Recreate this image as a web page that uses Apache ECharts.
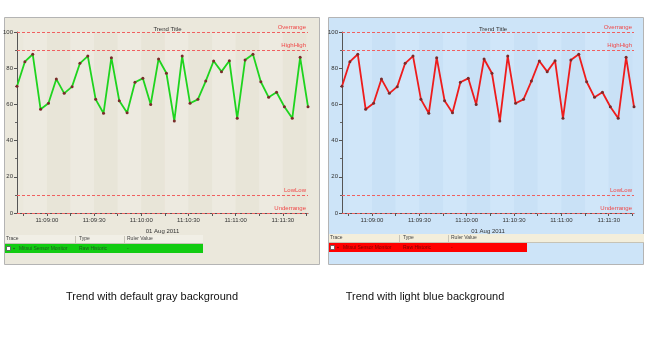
<!DOCTYPE html>
<html>
<head>
<meta charset="utf-8">
<script src="https://cdn.jsdelivr.net/npm/echarts@6/dist/echarts.min.js"></script>
<style>
  html, body { margin: 0; padding: 0; background: #fff; }
  #chart { width: 648px; height: 350px; }
</style>
</head>
<body>
<div id="chart"></div>
<script>
// Sample times (01 Aug 2011) and sensor readings, identical trace in both panels
const sampleTimes = [
  '11:08:41','11:08:46','11:08:51','11:08:56','11:09:01','11:09:06','11:09:11','11:09:16',
  '11:09:21','11:09:26','11:09:31','11:09:36','11:09:41','11:09:46','11:09:51','11:09:56',
  '11:10:01','11:10:06','11:10:11','11:10:16','11:10:21','11:10:26','11:10:31','11:10:36',
  '11:10:41','11:10:46','11:10:51','11:10:56','11:11:01','11:11:06','11:11:11','11:11:16',
  '11:11:21','11:11:26','11:11:31','11:11:36','11:11:41','11:11:46'
];
const sensorValues = [
  70, 83.6, 87.7, 57.3, 60.6, 74, 66.1, 69.8,
  82.7, 86.7, 62.8, 55.1, 85.8, 62, 55.4, 72.2,
  74.4, 60, 85.1, 77.2, 50.8, 86.7, 60.6, 62.8,
  72.9, 84, 78.1, 84.1, 52.3, 84.5, 87.7, 72.5,
  63.9, 66.7, 58.7, 52.3, 86, 58.7
];
// Labelled time ticks and the unlabelled ticks between them
const xTickLabels = ['11:09:00', '11:09:30', '11:10:00', '11:10:30', '11:11:00', '11:11:30'];
const xTickMarks = [
  '11:08:45', '11:09:00', '11:09:15', '11:09:30', '11:09:45', '11:10:00', '11:10:15',
  '11:10:30', '11:10:45', '11:11:00', '11:11:15', '11:11:30', '11:11:45'
];
// Alarm limits drawn as dashed rulers
const limitNames = ['Overrange', 'HighHigh', 'LowLow', 'Underrange'];
const limitValues = [100, 90, 10, 0];
const yTicks = { min: 0, max: 100, step: 20 };
const dateLabel = '01 Aug 2011';
const traceRow = ['Mitsui Sensor Monitor', 'Raw Historic', '-'];
const headerCols = ['Trace', 'Type', 'Ruler Value'];
const captions = ['Trend with default gray background', 'Trend with light blue background'];

function toTime(s) {
  const p = s.split(':').map(Number);
  return new Date(2011, 7, 1, p[0], p[1], p[2]).getTime();
}
function pad(n) { return (n < 10 ? '0' : '') + n; }
function fmtTime(v) {
  const d = new Date(v);
  return pad(d.getHours()) + ':' + pad(d.getMinutes()) + ':' + pad(d.getSeconds());
}
const seriesData = sampleTimes.map((t, i) => [toTime(t), sensorValues[i]]);
const tMin = toTime(sampleTimes[0]);
const tMax = toTime(sampleTimes[sampleTimes.length - 1]);

const FONT = 'Liberation Sans';
const panels = [
  { x: 4, gridLeft: 17, gridRight: 340, line: '#1ed41e', bg: '#ebe8dc',
    bands: ['#edeae0', '#e8e5d8'], header: '#f1efe6', headerW: 198,
    row: '#11cc11', rowY: 244, rowText: '#1f5a1f', caption: 152 },
  { x: 328, gridLeft: 342, gridRight: 14, line: '#ee1c1c', bg: '#cde4f8',
    bands: ['#d0e6f9', '#c9e1f6'], header: '#f3eedb', headerW: 315,
    row: '#ff0000', rowY: 243, rowText: '#7a0000', caption: 425 }
];

const grids = [], xAxes = [], yAxes = [], series = [], titles = [], graphics = [];

panels.forEach((p, i) => {
  grids.push({ left: p.gridLeft, right: p.gridRight, top: 32, bottom: 137, containLabel: false });
  titles.push({
    text: 'Trend Title', left: p.gridLeft + (648 - p.gridLeft - p.gridRight) / 2, top: 21,
    textAlign: 'center',
    textStyle: { fontSize: 6, fontWeight: 'normal', color: '#333', fontFamily: FONT }
  });
  xAxes.push({
    type: 'value', gridIndex: i, min: tMin, max: tMax,
    axisLine: { show: true, onZero: false, lineStyle: { color: '#555', width: 1 } },
    axisTick: { show: true, length: 3, lineStyle: { color: '#555' },
                customValues: xTickMarks.map(toTime) },
    axisLabel: {
      formatter: fmtTime, fontSize: 6, color: '#333', margin: 4, fontFamily: FONT,
      customValues: xTickLabels.map(toTime)
    },
    splitLine: { show: false },
    splitArea: { show: true, areaStyle: { color: p.bands } },
    name: dateLabel, nameLocation: 'middle', nameGap: 15,
    nameTextStyle: { fontSize: 6, color: '#333', fontFamily: FONT }
  });
  yAxes.push({
    type: 'value', gridIndex: i, min: yTicks.min, max: yTicks.max, interval: yTicks.step,
    axisLine: { show: true, lineStyle: { color: '#555', width: 1 } },
    axisTick: { show: true, length: 3, lineStyle: { color: '#555' } },
    minorTick: { show: true, splitNumber: 2, length: 2, lineStyle: { color: '#666' } },
    axisLabel: { fontSize: 6, color: '#333', margin: 4, fontFamily: FONT },
    splitLine: { show: false }
  });
  series.push({
    type: 'line', xAxisIndex: i, yAxisIndex: i, data: seriesData,
    symbol: 'circle', symbolSize: 3, showSymbol: true,
    itemStyle: { color: '#7a2a2a' },
    lineStyle: { color: p.line, width: 1.8 },
    emphasis: { disabled: true }, animation: false, z: 5,
    markLine: {
      silent: true, symbol: 'none', animation: false,
      lineStyle: { color: '#f06060', type: [3, 2], width: 1 },
      label: {
        position: 'insideEndTop', formatter: '{b}', fontSize: 6,
        color: '#f04848', fontFamily: FONT, distance: 2
      },
      data: limitNames.map((n, k) => ({ name: n, yAxis: limitValues[k] }))
    }
  });

  // panel background with a thin frame
  graphics.push({
    type: 'rect', z: -10, silent: true,
    shape: { x: p.x + 0.5, y: 17.5, width: 315, height: 247 },
    style: { fill: p.bg, stroke: '#b4b4b4', lineWidth: 1 }
  });
  // trace table header
  const hy = p.rowY - 9;
  graphics.push({
    type: 'rect', z: -9, silent: true,
    shape: { x: p.x + 1, y: hy, width: p.headerW, height: 8 },
    style: { fill: p.header }
  });
  graphics.push({
    type: 'line', z: -8, silent: true,
    shape: { x1: p.x + 1, y1: hy + 8.5, x2: p.x + 1 + p.headerW, y2: hy + 8.5 },
    style: { stroke: '#c6c3b6', lineWidth: 1 }
  });
  const colX = [p.x + 2, p.x + 75, p.x + 123];
  [p.x + 71, p.x + 120].forEach(sx => graphics.push({
    type: 'line', z: -8, silent: true,
    shape: { x1: sx + 0.5, y1: hy + 1, x2: sx + 0.5, y2: hy + 8 },
    style: { stroke: '#c8c5b8', lineWidth: 1 }
  }));
  headerCols.forEach((h, k) => graphics.push({
    type: 'text', z: 1, silent: true,
    style: { x: colX[k], y: hy + 4, text: h, fontSize: 5, fontFamily: FONT,
             fill: '#444', verticalAlign: 'middle' }
  }));
  // trace row
  graphics.push({
    type: 'rect', z: -9, silent: true,
    shape: { x: p.x + 1, y: p.rowY, width: 198, height: 9 },
    style: { fill: p.row }
  });
  graphics.push({
    type: 'rect', z: 1, silent: true,
    shape: { x: p.x + 2.5, y: p.rowY + 2.5, width: 4, height: 4 },
    style: { fill: '#fff', stroke: '#555', lineWidth: 0.8 }
  });
  graphics.push({
    type: 'circle', z: 1, silent: true,
    shape: { cx: p.x + 10, cy: p.rowY + 4.5, r: 0.8 },
    style: { fill: p.rowText }
  });
  const rowX = [p.x + 15, p.x + 75, p.x + 123];
  traceRow.forEach((t, k) => graphics.push({
    type: 'text', z: 1, silent: true,
    style: { x: rowX[k], y: p.rowY + 4.5, text: t, fontSize: 5, fontFamily: FONT,
             fill: p.rowText, verticalAlign: 'middle' }
  }));
  // caption under the panel
  graphics.push({
    type: 'text', silent: true,
    style: { x: p.caption, y: 297, text: captions[i], fontSize: 11, fontFamily: FONT,
             fill: '#111', align: 'center', verticalAlign: 'middle' }
  });
});

const chart = echarts.init(document.getElementById('chart'), null, { renderer: 'canvas' });
chart.setOption({
  backgroundColor: '#ffffff',
  animation: false,
  title: titles,
  grid: grids,
  xAxis: xAxes,
  yAxis: yAxes,
  series: series,
  graphic: graphics
});
</script>
</body>
</html>
